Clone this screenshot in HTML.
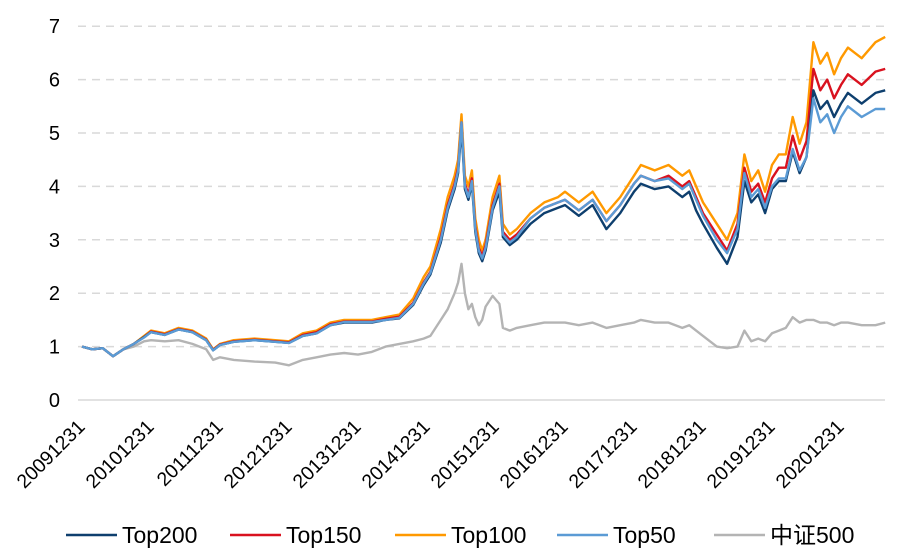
<!DOCTYPE html>
<html><head><meta charset="utf-8"><style>
body{margin:0;background:#fff;}
svg{display:block;font-family:"Liberation Sans","Noto Sans CJK SC",sans-serif;}
</style></head><body>
<svg id="chart" width="897" height="552" viewBox="0 0 897 552">
<g id="grid"></g>
<g id="yaxis"></g>
<g id="xaxis"></g>
<g id="series"></g>
<g id="legend"></g>
</svg>
<script>
const years = [0,0.15,0.3,0.45,0.6,0.75,0.9,1.0,1.2,1.4,1.6,1.8,1.9,2.0,2.2,2.5,2.8,3.0,3.2,3.4,3.6,3.8,4.0,4.2,4.4,4.6,4.8,4.95,5.05,5.2,5.3,5.4,5.45,5.5,5.55,5.6,5.65,5.7,5.75,5.8,5.85,5.95,6.05,6.1,6.2,6.3,6.5,6.7,6.9,7.0,7.2,7.4,7.6,7.8,8.0,8.1,8.3,8.5,8.7,8.8,8.9,9.0,9.2,9.35,9.5,9.6,9.7,9.8,9.9,10.0,10.1,10.2,10.3,10.4,10.5,10.6,10.7,10.8,10.9,11.0,11.1,11.3,11.5,11.64];
const top100 = [1.0,0.95,0.97,0.82,0.95,1.05,1.2,1.3,1.25,1.35,1.3,1.15,0.95,1.05,1.12,1.15,1.12,1.1,1.25,1.3,1.45,1.5,1.5,1.5,1.55,1.6,1.9,2.3,2.5,3.2,3.8,4.2,4.5,5.35,4.2,4.0,4.3,3.4,3.0,2.8,3.0,3.8,4.2,3.3,3.1,3.2,3.5,3.7,3.8,3.9,3.7,3.9,3.5,3.8,4.2,4.4,4.3,4.4,4.2,4.3,4.0,3.7,3.3,3.0,3.5,4.6,4.1,4.3,3.9,4.4,4.6,4.6,5.3,4.8,5.2,6.7,6.3,6.5,6.1,6.4,6.6,6.4,6.7,6.8];
const top150 = [1.0,0.95,0.97,0.82,0.95,1.05,1.18,1.28,1.23,1.33,1.28,1.13,0.94,1.04,1.1,1.13,1.1,1.08,1.22,1.27,1.42,1.47,1.47,1.47,1.52,1.56,1.82,2.2,2.4,3.05,3.65,4.05,4.35,5.2,4.05,3.85,4.15,3.25,2.85,2.7,2.9,3.65,4.05,3.15,3.0,3.1,3.4,3.6,3.7,3.75,3.55,3.75,3.35,3.65,4.05,4.2,4.1,4.2,4.0,4.1,3.8,3.5,3.1,2.8,3.3,4.35,3.9,4.05,3.7,4.15,4.35,4.35,4.95,4.5,4.85,6.2,5.8,6.0,5.65,5.9,6.1,5.9,6.15,6.2];
const top200 = [1.0,0.95,0.97,0.82,0.95,1.05,1.18,1.27,1.22,1.32,1.27,1.12,0.93,1.03,1.09,1.12,1.09,1.07,1.2,1.25,1.4,1.45,1.45,1.45,1.5,1.53,1.78,2.15,2.35,2.95,3.55,3.95,4.25,5.1,3.95,3.75,4.05,3.15,2.75,2.6,2.8,3.55,3.9,3.05,2.9,3.0,3.3,3.5,3.6,3.65,3.45,3.65,3.2,3.5,3.9,4.05,3.95,4.0,3.8,3.9,3.55,3.3,2.85,2.55,3.05,4.1,3.7,3.85,3.5,3.95,4.1,4.1,4.65,4.25,4.55,5.8,5.45,5.6,5.3,5.55,5.75,5.55,5.75,5.8];
const top50 = [1.0,0.95,0.97,0.82,0.95,1.05,1.17,1.27,1.22,1.32,1.27,1.12,0.93,1.03,1.09,1.12,1.09,1.07,1.2,1.25,1.4,1.46,1.46,1.46,1.5,1.54,1.8,2.18,2.38,3.0,3.6,4.0,4.3,5.2,4.0,3.8,4.1,3.2,2.8,2.65,2.85,3.6,4.0,3.1,2.95,3.05,3.4,3.6,3.7,3.75,3.55,3.75,3.35,3.65,4.05,4.2,4.1,4.15,3.95,4.05,3.75,3.45,3.0,2.75,3.2,4.25,3.8,3.95,3.6,4.0,4.15,4.15,4.7,4.3,4.55,5.65,5.2,5.35,5.0,5.3,5.5,5.3,5.45,5.45];
const csi500 = [1.0,0.95,0.97,0.82,0.95,1.0,1.1,1.12,1.1,1.12,1.05,0.95,0.75,0.8,0.75,0.72,0.7,0.65,0.75,0.8,0.85,0.88,0.85,0.9,1.0,1.05,1.1,1.15,1.2,1.5,1.7,2.0,2.2,2.55,2.0,1.7,1.8,1.55,1.4,1.5,1.75,1.95,1.8,1.35,1.3,1.35,1.4,1.45,1.45,1.45,1.4,1.45,1.35,1.4,1.45,1.5,1.45,1.45,1.35,1.4,1.3,1.2,1.0,0.97,1.0,1.3,1.1,1.15,1.1,1.25,1.3,1.35,1.55,1.45,1.5,1.5,1.45,1.45,1.4,1.45,1.45,1.4,1.4,1.45];
const yTicks = [0,1,2,3,4,5,6,7];
const xTickLabels = ["20091231","20101231","20111231","20121231","20131231","20141231","20151231","20161231","20171231","20181231","20191231","20201231"];
const seriesNames = ["Top200","Top150","Top100","Top50","中证500"];

const NS="http://www.w3.org/2000/svg";
const x0=82, pxPerYear=69, yBase=400, pxPerUnit=53.4;
function xs(t){return x0+t*pxPerYear;}
function ys(v){return yBase-v*pxPerUnit;}
function mk(tag,attrs,parent){const e=document.createElementNS(NS,tag);for(const k in attrs)e.setAttribute(k,attrs[k]);parent.appendChild(e);return e;}

const grid=document.getElementById('grid'), yaxis=document.getElementById('yaxis'), xaxis=document.getElementById('xaxis');
yTicks.forEach(v=>{
  const l=mk('line',{x1:78,x2:885,y1:ys(v),y2:ys(v),stroke:'#d9d9d9','stroke-width':1.5},grid);
  if(v!==0)l.setAttribute('stroke-dasharray','8,6');
  
  
  const t=mk('text',{x:60,y:ys(v)+7,'text-anchor':'end','font-size':20,fill:'#000'},yaxis);
  t.textContent=v;
  
  
});
xTickLabels.forEach((s,i)=>{
  const x=xs(i)+4, y=428;
  const t=mk('text',{x:x,y:y,'text-anchor':'end','font-size':19.5,fill:'#000',transform:`rotate(-45 ${x} ${y})`},xaxis);
  t.textContent=s;
  
  
});

const sg=document.getElementById('series');
const draws=[[csi500,'#b4b4b4','csi500-line'],[top100,'#ff9900','top100-line'],[top150,'#d9121f','top150-line'],[top200,'#0e3f6e','top200-line'],[top50,'#5b9bd5','top50-line']];
draws.forEach(([arr,col,name])=>{
  const d=arr.map((v,i)=>(i?'L':'M')+xs(years[i]).toFixed(1)+','+ys(v).toFixed(1)).join('');
  const p=mk('path',{d:d,fill:'none',stroke:col,'stroke-width':2.4,'stroke-linejoin':'round'},sg);
  
  
});

const lg=document.getElementById('legend');
const lcols=['#0e3f6e','#d9121f','#ff9900','#5b9bd5','#b4b4b4'];
const lx=[66,230,395,557,714];
seriesNames.forEach((n,i)=>{
  const g=mk('g',{},lg);
  
  
  mk('line',{x1:lx[i],x2:lx[i]+51,y1:535,y2:535,stroke:lcols[i],'stroke-width':2.5},g);
  const t=mk('text',{x:lx[i]+56,y:543,'font-size':23,fill:'#000'},g);
  t.textContent=n;
});
</script>
</body></html>
